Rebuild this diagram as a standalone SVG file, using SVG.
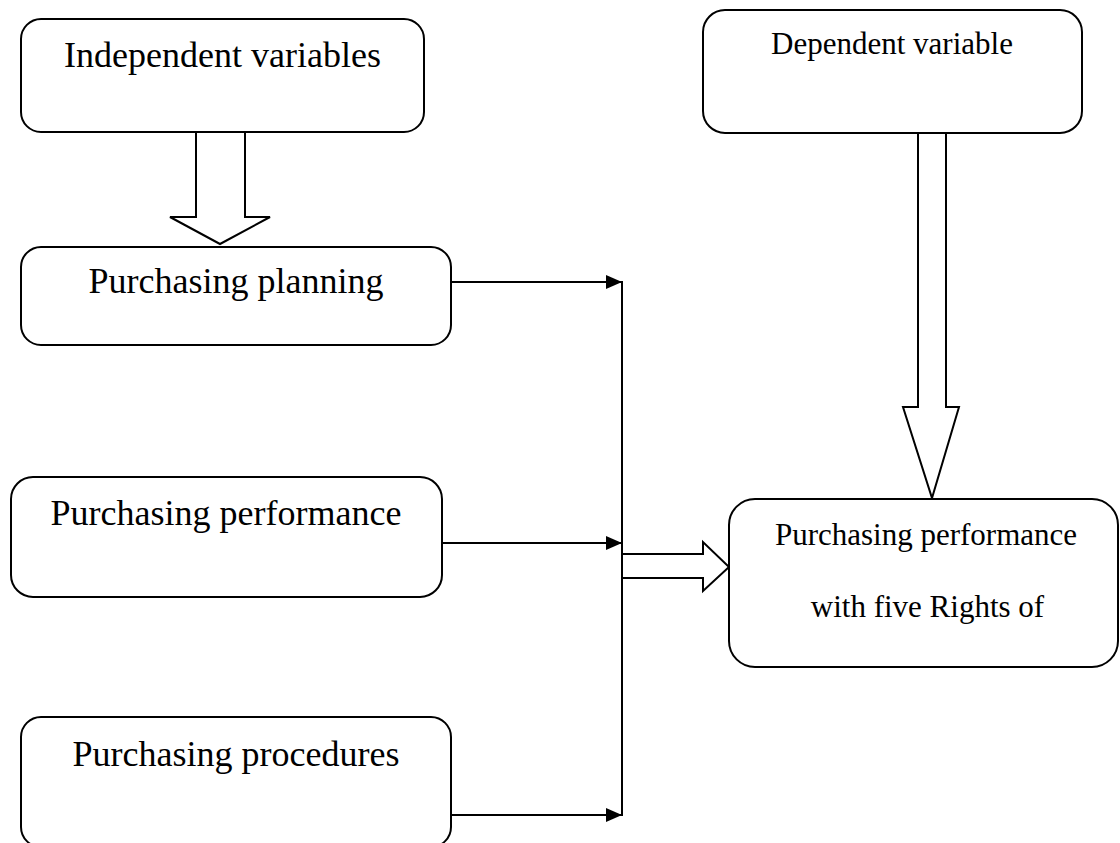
<svg xmlns="http://www.w3.org/2000/svg" width="1120" height="843" viewBox="0 0 1120 843">
<style>
.box{fill:#fff;stroke:#000;stroke-width:2}
.t{font-family:"Liberation Serif","Times New Roman",serif;fill:#000;text-anchor:middle}
.big{font-size:36px}
.small{font-size:31px}
.ln{fill:none;stroke:#000;stroke-width:2}
.hollow{fill:#fff;stroke:#000;stroke-width:2;stroke-linejoin:miter}
</style>
<defs>
<marker id="ah" viewBox="0 0 16 14" refX="16" refY="7" markerWidth="16" markerHeight="14" markerUnits="userSpaceOnUse" orient="auto">
<path d="M0,0 L16,7 L0,14 Z" fill="#000"/>
</marker>
</defs>
<rect width="1120" height="843" fill="#fff"/>
<g id="connectors">
<line class="ln" x1="451" y1="282" x2="622" y2="282" marker-end="url(#ah)"/>
<line class="ln" x1="442" y1="543" x2="622" y2="543" marker-end="url(#ah)"/>
<line class="ln" x1="451" y1="815" x2="622" y2="815" marker-end="url(#ah)"/>
<line class="ln" x1="622" y1="281" x2="622" y2="816"/>
<polygon class="hollow" points="196,132 245,132 245,217 270,217 220,244 170,217 196,217"/>
<polygon class="hollow" points="918,133 946,133 946,407 959,407 932,498 903,407 918,407"/>
<polygon class="hollow" points="622,554 703,554 703,542 729,567 703,591 703,578 622,578"/>
</g>
<g id="independent">
<rect class="box" x="21" y="19" width="403" height="113" rx="20" ry="20"/>
<text class="t big" x="222.5" y="67">Independent variables</text>
</g>
<g id="planning">
<rect class="box" x="21" y="247" width="430" height="98" rx="20" ry="20"/>
<text class="t big" x="236" y="293">Purchasing planning</text>
</g>
<g id="performance">
<rect class="box" x="11" y="477" width="431" height="120" rx="22" ry="22"/>
<text class="t big" x="226" y="525">Purchasing performance</text>
</g>
<g id="procedures">
<rect class="box" x="21" y="717" width="430" height="130" rx="20" ry="20"/>
<text class="t big" x="236" y="766">Purchasing procedures</text>
</g>
<g id="dependent">
<rect class="box" x="703" y="10" width="379" height="123" rx="22" ry="22"/>
<text class="t small" x="892" y="54">Dependent variable</text>
</g>
<g id="outcome">
<rect class="box" x="729" y="499" width="389" height="168" rx="26" ry="26"/>
<text class="t small" x="926" y="545">Purchasing performance</text>
<text class="t small" x="927.5" y="617">with five Rights of</text>
</g>
</svg>
